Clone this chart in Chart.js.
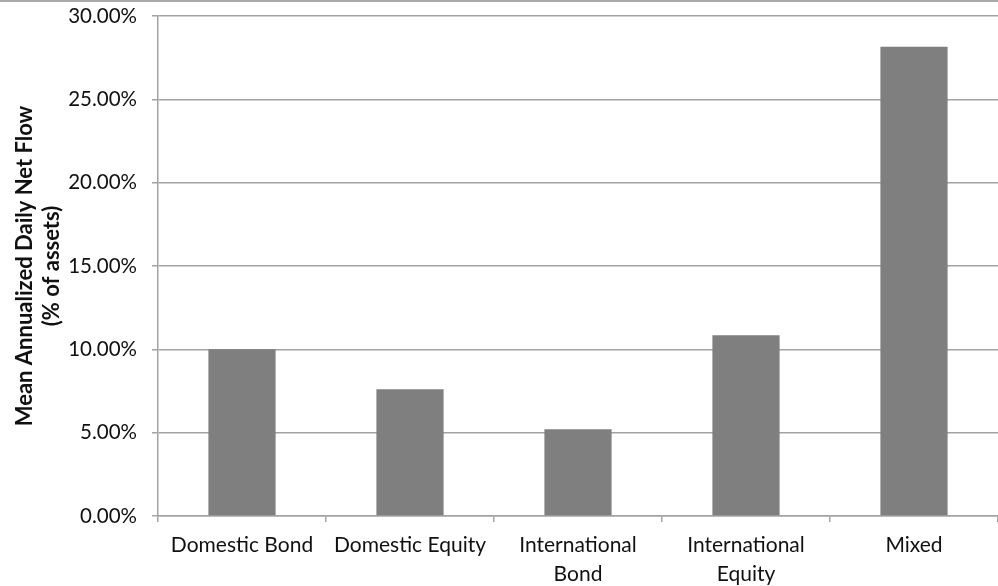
<!DOCTYPE html>
<html>
<head>
<meta charset="utf-8">
<script src="https://cdn.jsdelivr.net/npm/chart.js@4/dist/chart.umd.min.js"></script>
<style>
  html, body { margin: 0; padding: 0; background: #ffffff; }
  #wrap { width: 998px; height: 586px; position: relative; }
</style>
</head>
<body>
<div id="wrap"><canvas id="chart" width="998" height="586"></canvas></div>
<script>
// Fund categories (multi-line labels as arrays)
const categories = [
  ['Domestic Bond'],
  ['Domestic Equity'],
  ['International', 'Bond'],
  ['International', 'Equity'],
  ['Mixed']
];

// Mean annualized daily net flow, % of assets
const netFlowPct = [10.0, 7.6, 5.2, 10.85, 28.15];

// Value axis range and step (percent)
const yMin = 0;
const yMax = 30;
const yStep = 5;

const axisTitle = ['Mean Annualized Daily Net Flow', '(% of assets)'];

const gridGray = '#a3a3a3';

// Thin rule along the top edge of the figure
const topRule = {
  id: 'topRule',
  afterDraw(chart) {
    const ctx = chart.ctx;
    ctx.save();
    ctx.strokeStyle = '#8c8c8c';
    ctx.lineWidth = 1.5;
    ctx.beginPath();
    ctx.moveTo(0, 1);
    ctx.lineTo(chart.width, 1);
    ctx.stroke();
    ctx.restore();
  }
};

new Chart(document.getElementById('chart'), {
  type: 'bar',
  data: {
    labels: categories,
    datasets: [{
      data: netFlowPct,
      backgroundColor: '#7f7f7f',
      borderWidth: 0,
      categoryPercentage: 1.0,
      barPercentage: 0.4
    }]
  },
  plugins: [topRule],
  options: {
    responsive: false,
    animation: false,
    events: [],
    layout: { padding: { top: 16, right: 0, bottom: 0, left: 0 } },
    plugins: {
      legend: { display: false },
      tooltip: { enabled: false },
      title: { display: false }
    },
    scales: {
      x: {
        offset: true,
        grid: {
          offset: true,
          drawOnChartArea: false,
          drawTicks: true,
          tickLength: 6,
          color: gridGray,
          lineWidth: 1.5
        },
        border: { display: true, color: gridGray, width: 1.5 },
        ticks: {
          color: '#111111',
          font: { family: 'Lato', size: 21, lineHeight: 1.38 },
          padding: 9,
          maxRotation: 0,
          minRotation: 0,
          autoSkip: false
        },
        afterFit(scale) {
          scale.height = 70;
          scale.paddingLeft = 0;
          scale.paddingRight = 0;
        }
      },
      y: {
        min: yMin,
        max: yMax,
        ticks: {
          stepSize: yStep,
          color: '#111111',
          font: { family: 'Lato', size: 20.5 },
          padding: 15,
          callback: (v) => v.toFixed(2) + '%'
        },
        grid: {
          color: gridGray,
          lineWidth: 1.5,
          tickLength: 6
        },
        border: { display: true, color: gridGray, width: 1.5 },
        title: {
          display: true,
          text: axisTitle,
          color: '#111111',
          font: { family: 'Lato', size: 22, weight: 'bold', lineHeight: 1.2 },
          padding: { top: 12, bottom: 0 }
        },
        afterFit(scale) {
          scale.width = 158;
          scale.paddingTop = 0;
          scale.paddingBottom = 0;
        }
      }
    }
  }
});
</script>
</body>
</html>
